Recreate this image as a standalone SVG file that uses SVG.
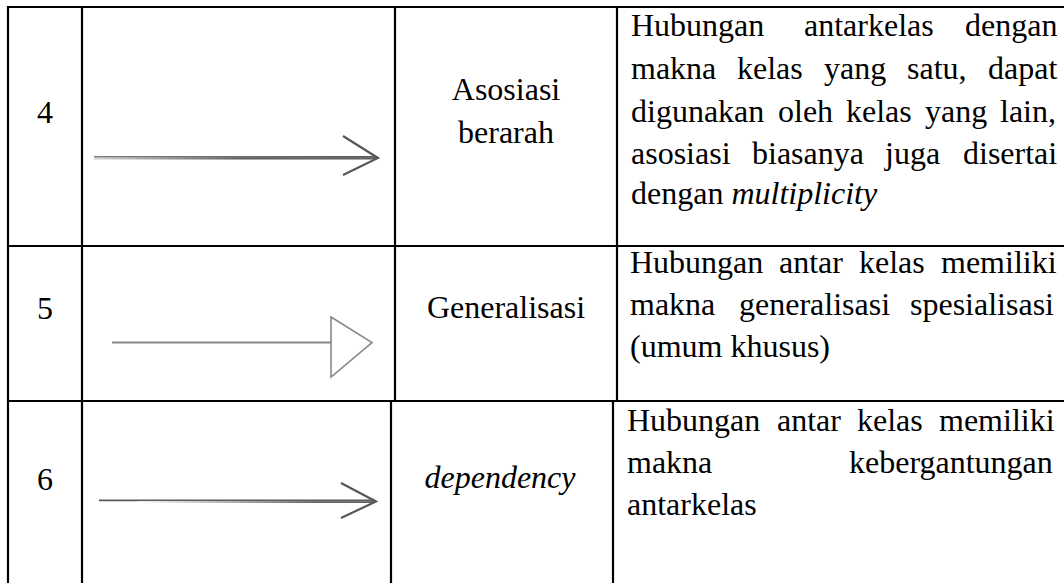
<svg xmlns="http://www.w3.org/2000/svg" width="1064" height="583" viewBox="0 0 1064 583">
  <style>
    .t { font-family: "Liberation Serif", "Times New Roman", serif; font-size: 32px; fill: #000; }
    .c { text-anchor: middle; }
    .i { font-style: italic; }
    .grid { stroke: #000; stroke-width: 2.2; fill: none; }
    .head { stroke: #575757; stroke-width: 2.2; fill: none; stroke-linecap: butt; }
  </style>
  <defs>
    <linearGradient id="g4top" gradientUnits="userSpaceOnUse" x1="94" y1="0" x2="376" y2="0">
      <stop offset="0" stop-color="#7e7e7e"/>
      <stop offset="1" stop-color="#565656"/>
    </linearGradient>
    <linearGradient id="g4bot" gradientUnits="userSpaceOnUse" x1="94" y1="0" x2="240" y2="0">
      <stop offset="0" stop-color="#d4d4d4"/>
      <stop offset="1" stop-color="#5e5e5e"/>
    </linearGradient>
    <linearGradient id="g6bot" gradientUnits="userSpaceOnUse" x1="138" y1="0" x2="318" y2="0">
      <stop offset="0" stop-color="#ffffff"/>
      <stop offset="1" stop-color="#5e5e5e"/>
    </linearGradient>
  </defs>
  <rect x="0" y="0" width="1064" height="583" fill="#fff"/>

  <g id="grid" class="grid">
    <line x1="8" y1="7" x2="1064" y2="7"/>
    <line x1="8" y1="6" x2="8" y2="583"/>
    <line x1="82" y1="6" x2="82" y2="583"/>
    <line x1="395" y1="6" x2="395" y2="401"/>
    <line x1="391" y1="401" x2="391" y2="583"/>
    <line x1="617" y1="6" x2="617" y2="401"/>
    <line x1="613" y1="401" x2="613" y2="583"/>
    <line x1="8" y1="246" x2="1064" y2="246"/>
    <line x1="8" y1="401" x2="1064" y2="401"/>
  </g>

  <g id="row4">
    <text class="t c" x="45" y="123">4</text>
    <text class="t c" x="506" y="100">Asosiasi</text>
    <text class="t c" x="506" y="143">berarah</text>
    <text class="t" y="36"><tspan x="631">Hubungan</tspan><tspan x="804">antarkelas</tspan><tspan x="965">dengan</tspan></text>
    <text class="t" y="79"><tspan x="631">makna</tspan><tspan x="737">kelas</tspan><tspan x="824">yang</tspan><tspan x="907">satu,</tspan><tspan x="988">dapat</tspan></text>
    <text class="t" y="122"><tspan x="631">digunakan</tspan><tspan x="778">oleh</tspan><tspan x="846">kelas</tspan><tspan x="925">yang</tspan><tspan x="1000">lain,</tspan></text>
    <text class="t" y="164"><tspan x="631">asosiasi</tspan><tspan x="752">biasanya</tspan><tspan x="885">juga</tspan><tspan x="963">disertai</tspan></text>
    <text class="t" y="204"><tspan x="631">dengan </tspan><tspan class="i">multiplicity</tspan></text>
  </g>

  <g id="row5">
    <text class="t c" x="45" y="319">5</text>
    <text class="t c" x="506" y="318">Generalisasi</text>
    <text class="t" y="273"><tspan x="630">Hubungan</tspan><tspan x="779">antar</tspan><tspan x="859">kelas</tspan><tspan x="941">memiliki</tspan></text>
    <text class="t" y="315"><tspan x="630">makna</tspan><tspan x="739">generalisasi</tspan><tspan x="910">spesialisasi</tspan></text>
    <text class="t" x="630" y="357">(umum khusus)</text>
  </g>

  <g id="row6">
    <text class="t c" x="45" y="490">6</text>
    <text class="t c i" x="500" y="488">dependency</text>
    <text class="t" y="431"><tspan x="627">Hubungan</tspan><tspan x="777">antar</tspan><tspan x="857">kelas</tspan><tspan x="939">memiliki</tspan></text>
    <text class="t" y="473"><tspan x="627">makna</tspan><tspan x="849">kebergantungan</tspan></text>
    <text class="t" x="627" y="515">antarkelas</text>
  </g>

  <g id="connectors">
    <g id="arrow-asosiasi">
      <line x1="94" y1="156.8" x2="376" y2="156.8" stroke="url(#g4top)" stroke-width="1.8"/>
      <line x1="94" y1="158.5" x2="376" y2="158.5" stroke="url(#g4bot)" stroke-width="1.8"/>
      <polyline class="head" points="343,136 378,158 343,175"/>
    </g>
    <g id="arrow-generalisasi">
      <line x1="112" y1="342.5" x2="331" y2="342.5" stroke="#888" stroke-width="2.2"/>
      <polygon points="331,317 372,342.5 331,377" fill="#fff" stroke="#888" stroke-width="1.6"/>
    </g>
    <g id="arrow-dependency">
      <line x1="99" y1="500.4" x2="375" y2="500.4" stroke="#5a5a5a" stroke-width="1.8"/>
      <line x1="138" y1="502.1" x2="375" y2="502.1" stroke="url(#g6bot)" stroke-width="1.8"/>
      <polyline class="head" points="341,483 376,501.5 341,518"/>
    </g>
  </g>
</svg>
